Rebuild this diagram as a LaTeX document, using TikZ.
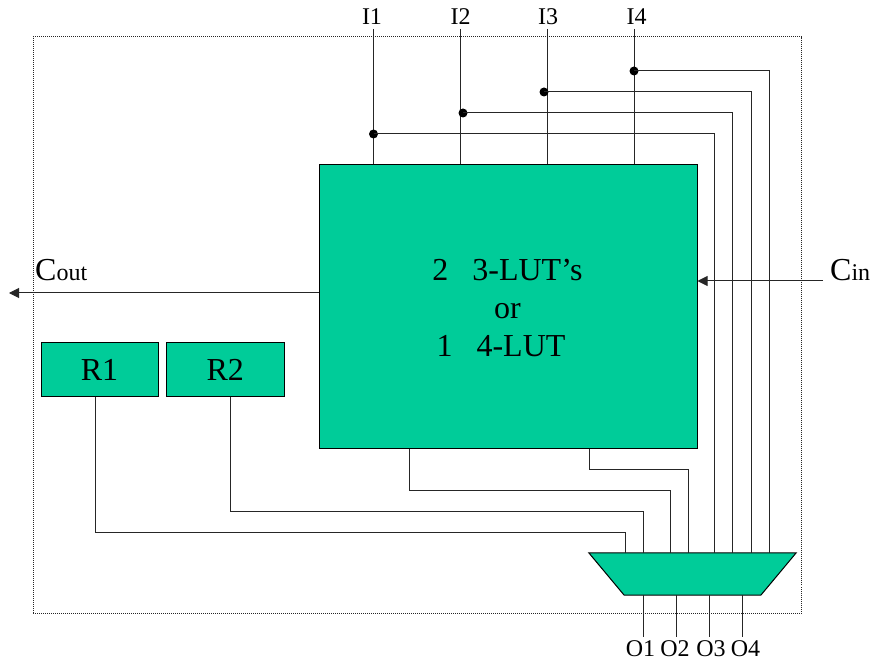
\documentclass[tikz,border=0pt]{standalone}
\usepackage{fontspec}
\setmainfont{Liberation Serif}
\usetikzlibrary{arrows.meta}
\definecolor{lutgreen}{HTML}{00CC99}
\tikzset{
  block/.style={draw=black,line width=1pt,fill=lutgreen,inner sep=0pt},
  wire/.style={draw=black!85,line width=1pt},
  arrowwire/.style={wire,-{Triangle[length=10pt,width=10pt]}},
  junction/.style={circle,fill=black,inner sep=0pt,minimum size=9pt},
  pinlabel/.style={inner sep=0pt,font=\fontsize{24}{24}\selectfont},
  biglabel/.style={inner sep=0pt,font=\fontsize{32}{38}\selectfont},
  bound/.style={draw=black!85,line width=1pt,dash pattern=on 1pt off 1pt}
}
\newcommand{\carry}[2]{\fontsize{32}{32}\selectfont #1\fontsize{24}{24}\selectfont #2}
\begin{document}
\begin{tikzpicture}[x=1pt,y=-1pt]
\useasboundingbox (0,0) rectangle (873,660);
\node[bound,minimum width=768.5pt,minimum height=576pt,inner sep=0pt] (frame) at (417.25,325) {};
% wire x positions
\foreach \n/\x in {rI/714.5,rII/732.5,rIII/751,rIV/769,a/589,b/688,c/409.5,d/670,e/230,f/643,g/95,h/625}
  \coordinate (\n) at (\x,0);
\foreach \n/\x/\w in {I1/372/373.5,I2/460.5/460,I3/548/547,I4/636.5/634}{
  \node[pinlabel,anchor=base] (\n) at (\x,25) {\n};
  \coordinate (w\n) at (\w,29);
}
\foreach \n/\x/\w in {O1/640.5/643,O2/675/676,O3/711/709,O4/745.5/742}{
  \node[pinlabel,anchor=base] (\n) at (\x,656.5) {\n};
  \coordinate (w\n) at (\w,637);
}
\coordinate (m1) at (409.5,490);
\coordinate (m2) at (589,469);
\coordinate (m3) at (230,511);
\coordinate (m4) at (95,532);
\node[block,minimum width=377.5pt,minimum height=283pt] (big) at (508.25,306.5) {};
\node[biglabel,align=center] (txt) at (507.5,308) {2\ \ \ 3-LUT’s\\or\\1\ \ \ 4-LUT\rule{13pt}{0pt}};
\node[block,minimum width=117pt,minimum height=53pt,biglabel] (R1) at (99.5,369.5) {R1};
\node[block,minimum width=117.5pt,minimum height=53pt,biglabel] (R2) at (225.25,369.5) {R2};
% multiplexer
\node[minimum width=207pt,minimum height=42pt,inner sep=0pt] (mux) at (692.5,574) {};
\coordinate (mbl) at (624,595);
\coordinate (mbr) at (761,595);
\draw[block] (mux.north west) -- (mux.north east) -- (mbr) -- (mbl) -- cycle;
% input junctions
\coordinate (yI1) at (0,134);
\coordinate (yI2) at (0,113);
\coordinate (yI3) at (0,92);
\coordinate (yI4) at (0,71);
\coordinate (x2) at (463,0);
\coordinate (x3) at (544,0);
\foreach \n in {I1,I2,I3,I4} \draw[wire] (w\n) -- (w\n |- big.north);
\node[junction] (j1) at (yI1 -| wI1) {};
\node[junction] (j2) at (yI2 -| x2) {};
\node[junction] (j3) at (yI3 -| x3) {};
\node[junction] (j4) at (yI4 -| wI4) {};
\draw[wire] (j1.center) -| (mux.north -| rI);
\draw[wire] (j2.center) -| (mux.north -| rII);
\draw[wire] (j3.center) -| (mux.north -| rIII);
\draw[wire] (j4.center) -| (mux.north -| rIV);
% outputs from LUT and registers
\draw[wire] (big.south -| a) |- (m2 -| b) -- (mux.north -| b);
\draw[wire] (big.south -| c) |- (m1 -| d) -- (mux.north -| d);
\draw[wire] (R2.south -| e) |- (m3 -| f) -- (mux.north -| f);
\draw[wire] (R1.south -| g) |- (m4 -| h) -- (mux.north -| h);
\foreach \n in {O1,O2,O3,O4} \draw[wire] (mbl -| w\n) -- (w\n);
% carry
\coordinate (yc) at (0,293);
\coordinate (ci) at (0,281);
\coordinate (coutend) at (9,293);
\coordinate (cinstart) at (823,281);
\draw[arrowwire] (big.west |- yc) -- (coutend);
\draw[arrowwire] (cinstart) -- (big.east |- ci);
\node[anchor=base west,inner sep=0pt] (cout) at (35,281) {\carry{C}{out}};
\node[anchor=base west,inner sep=0pt] (cin) at (830,281) {\carry{C}{in}};
\end{tikzpicture}
\end{document}
